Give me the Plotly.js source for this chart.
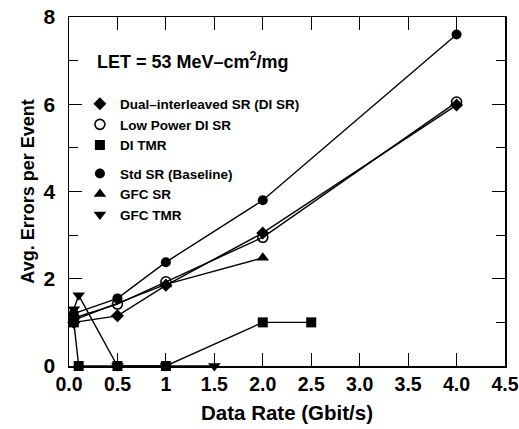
<!DOCTYPE html>
<html><head><meta charset="utf-8">
<script src="https://cdn.plot.ly/plotly-3.0.1.min.js"></script>
<style>body{margin:0;background:#fff}#c{width:519px;height:429px}</style>
</head><body><div id="c"></div>
<script>
const names = ["Dual\u2013interleaved SR (DI SR)", "Low Power DI SR", "DI TMR", "Std SR (Baseline)", "GFC SR", "GFC TMR"];
const symbols = ["diamond", "circle-open", "square", "circle", "triangle-up", "triangle-down"];
const diSrX = [0.05, 0.5, 1, 2, 4];
const diSrY = [1.0, 1.15, 1.85, 3.05, 5.98];
const lpX = [0.05, 0.5, 1, 2, 4];
const lpY = [1.1, 1.42, 1.93, 2.95, 6.05];
const diTmrX = [0.05, 0.1, 0.5, 1, 2, 2.5];
const diTmrY = [1.0, 0, 0, 0, 1.0, 1.0];
const stdX = [0.05, 0.5, 1, 2, 4];
const stdY = [1.2, 1.55, 2.38, 3.8, 7.6];
const gfcSrX = [0.05, 1, 2];
const gfcSrY = [1.05, 1.87, 2.48];
const gfcTmrX = [0.05, 0.1, 0.5, 1, 1.5];
const gfcTmrY = [1.3, 1.62, 0, 0, 0];
const xTickVals = [0, 0.5, 1, 1.5, 2, 2.5, 3, 3.5, 4, 4.5];
const xTickText = ["0.0", "0.5", "1", "1.5", "2.0", "2.5", "3.0", "3.5", "4.0", "4.5"];

const series = [[diSrX, diSrY], [lpX, lpY], [diTmrX, diTmrY], [stdX, stdY], [gfcSrX, gfcSrY], [gfcTmrX, gfcTmrY]];
function mk(i) {
  return {symbol: symbols[i], size: symbols[i].startsWith("triangle") ? 11 : 10, color: "#000",
          line: {color: "#000", width: symbols[i] === "circle-open" ? 1.6 : 0}};
}
const traces = [];
series.forEach((s, i) => {
  traces.push({
    x: s[0], y: s[1], name: names[i], type: "scatter", mode: "lines+markers",
    showlegend: false, cliponaxis: false,
    line: {color: "#000", width: 1.4}, marker: mk(i)
  });
});
// legend entries (marker only, as in the reference key)
series.forEach((s, i) => {
  traces.push({
    x: [null], y: [null], name: names[i], type: "scatter", mode: "markers",
    showlegend: true, legendgroup: i < 3 ? "a" : "b", marker: mk(i)
  });
});

const bold = {family: "Liberation Sans, Arial, sans-serif", color: "#000", weight: "bold"};
const layout = {
  width: 519, height: 429,
  margin: {l: 69, r: 14, t: 17, b: 63},
  paper_bgcolor: "#fff", plot_bgcolor: "#fff",
  showlegend: true,
  legend: {x: 0.025, y: 0.795, xanchor: "left", yanchor: "top", traceorder: "grouped",
           tracegroupgap: 8, bgcolor: "rgba(0,0,0,0)", itemwidth: 30, itemclick: false,
           font: Object.assign({size: 13.5}, bold)},
  xaxis: {range: [0, 4.5], tickvals: xTickVals, ticktext: xTickText, ticks: "inside", ticklen: 13,
          tickwidth: 1, tickcolor: "#000", showline: true, linecolor: "#000", linewidth: 1.5,
          mirror: "allticks", showgrid: false, zeroline: false,
          tickfont: Object.assign({size: 19.5}, bold),
          title: {text: "Data Rate (Gbit/s)", font: Object.assign({size: 20.5}, bold), standoff: 11}},
  yaxis: {range: [0, 8], dtick: 2, ticks: "inside", ticklen: 13, tickwidth: 1, tickcolor: "#000",
          minor: {dtick: 1, ticks: "inside", ticklen: 9, tickcolor: "#000", showgrid: false},
          showline: true, linecolor: "#000", linewidth: 1.5, mirror: "allticks",
          showgrid: false, zeroline: false, ticklabelstandoff: 8,
          tickfont: Object.assign({size: 21}, bold),
          title: {text: "Avg. Errors per Event", font: Object.assign({size: 18}, bold), standoff: 4}},
  annotations: [{xref: "paper", yref: "paper", x: 0.06, y: 0.875, xanchor: "left", yanchor: "middle",
                 text: "LET = 53 MeV\u2013cm<sup>2</sup>/mg", showarrow: false,
                 font: Object.assign({size: 18}, bold)}]
};
Plotly.newPlot("c", traces, layout, {staticPlot: true});
</script></body></html>
